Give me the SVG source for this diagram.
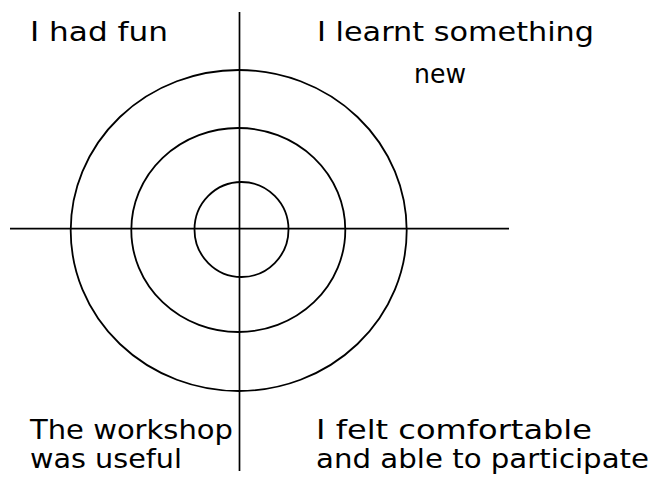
<svg xmlns="http://www.w3.org/2000/svg" width="658" height="494" viewBox="0 0 658 494">
<style>
.ring{fill:none;stroke:#000;stroke-width:1.8}
.axis{stroke:#000;stroke-width:1.7}
text{font-family:"DejaVu Sans","Liberation Sans",sans-serif;font-size:27px;fill:#000}
</style>
<rect width="658" height="494" fill="#fff"/>
<g id="rings">
<ellipse id="outer" class="ring" cx="238.7" cy="230.5" rx="168" ry="160.5"/>
<ellipse id="middle" class="ring" cx="238.3" cy="230" rx="107" ry="102"/>
<ellipse id="inner" class="ring" cx="241.5" cy="229.5" rx="47" ry="47.5"/>
</g>
<g id="axes">
<line class="axis" x1="239.5" y1="12" x2="239.5" y2="471"/>
<line class="axis" x1="10" y1="228.7" x2="509" y2="228.7"/>
</g>
<g id="labels">
<text x="30" y="40.5" textLength="138" lengthAdjust="spacingAndGlyphs">I had fun</text>
<text x="317" y="40.5" textLength="277" lengthAdjust="spacingAndGlyphs">I learnt something</text>
<text x="414" y="83" textLength="52" lengthAdjust="spacingAndGlyphs">new</text>
<text x="30" y="439" textLength="203" lengthAdjust="spacingAndGlyphs">The workshop</text>
<text x="30" y="468" textLength="152" lengthAdjust="spacingAndGlyphs">was useful</text>
<text x="316" y="439" textLength="276" lengthAdjust="spacingAndGlyphs">I felt comfortable</text>
<text x="316" y="468" textLength="333" lengthAdjust="spacingAndGlyphs">and able to participate</text>
</g>
</svg>
